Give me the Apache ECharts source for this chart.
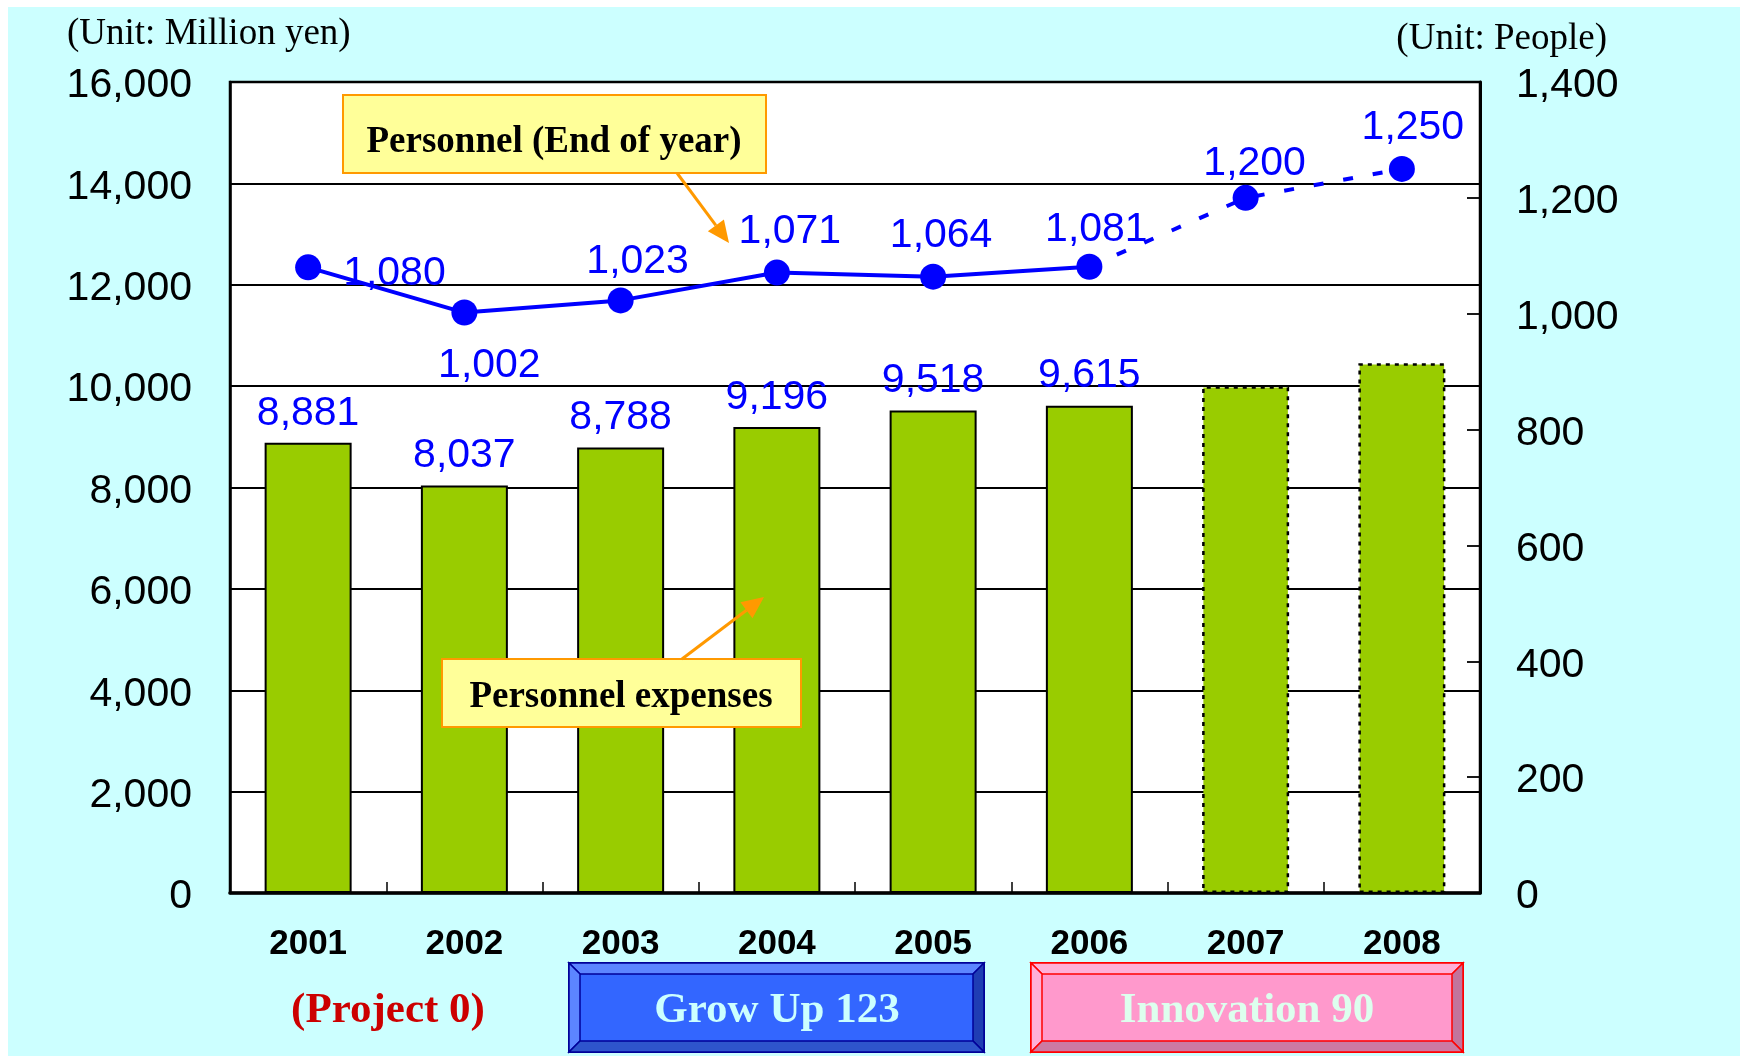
<!DOCTYPE html>
<html>
<head>
<meta charset="utf-8">
<title>Personnel expenses and personnel</title>
<script src="https://cdn.jsdelivr.net/npm/echarts@6/dist/echarts.min.js"></script>
<style>
  html, body { margin: 0; padding: 0; background: #fff; }
  #chart { width: 1740px; height: 1056px; }
</style>
</head>
<body>
<div id="chart"></div>
<script>
  // data
  var years = ['2001', '2002', '2003', '2004', '2005', '2006', '2007', '2008'];
  var expenses = [8881, 8037, 8788, 9196, 9518, 9615, 10000, 10450];
  var personnel = [1080, 1002, 1023, 1071, 1064, 1081, 1200, 1250];
  var plannedFrom = 6; // 2007 and 2008 are plans (dotted)
  var leftTicks = { min: 0, max: 16000, interval: 2000 };
  var rightTicks = { min: 0, max: 1400, interval: 200 };

  // label placement for the personnel line: [position, distance, dx, dy]
  var lineLabelPos = [
    ['right', 22, 0, 6],
    ['bottom', 20, 25, 0],
    ['top', 5, 17, 0],
    ['top', 7, 13, 0],
    ['top', 7, 8, 0],
    ['top', 4, 7, 0],
    ['top', 1, 9, 0],
    ['top', 8, 11, 0]
  ];

  var SANS = '"Liberation Sans", Arial, sans-serif';
  var SERIF = '"Liberation Serif", "Times New Roman", serif';

  function fmt(v) { return Number(v).toLocaleString('en-US'); }
  function axisFmt(v) { return '{n|' + fmt(v) + '}'; }

  var barData = expenses.map(function (v, i) {
    var planned = i >= plannedFrom;
    return {
      value: v,
      itemStyle: planned ? { borderType: [4, 5], borderWidth: 2.5 } : {},
      label: { show: !planned }
    };
  });

  var solidLine = personnel.map(function (v, i) {
    var p = lineLabelPos[i];
    return {
      value: i < plannedFrom ? v : '-',
      label: { position: p[0], distance: p[1], offset: [p[2], p[3]] }
    };
  });
  var planLine = personnel.map(function (v, i) {
    var p = lineLabelPos[i];
    return {
      value: i >= plannedFrom - 1 ? v : '-',
      label: { show: i >= plannedFrom, position: p[0], distance: p[1], offset: [p[2], p[3]] },
      symbolSize: i >= plannedFrom ? 26 : 0
    };
  });

  function arrow(x1, y1, x2, y2, color) {
    var a = Math.atan2(y2 - y1, x2 - x1);
    var len = 22, w = 10;
    var bx = x2 - len * Math.cos(a), by = y2 - len * Math.sin(a);
    var px = -Math.sin(a) * w, py = Math.cos(a) * w;
    return [
      { type: 'line', z: 50, shape: { x1: x1, y1: y1, x2: bx, y2: by }, style: { stroke: color, lineWidth: 3 } },
      { type: 'polygon', z: 50, shape: { points: [[x2, y2], [bx + px, by + py], [bx - px, by - py]] }, style: { fill: color } }
    ];
  }

  function bevelBox(x, y, w, h, b, c) {
    return [
      { type: 'rect', z: 50, shape: { x: x, y: y, width: w, height: h }, style: { fill: c.face, stroke: c.line, lineWidth: 2 } },
      { type: 'polygon', z: 51, shape: { points: [[x, y], [x + w, y], [x + w - b, y + b], [x + b, y + b]] }, style: { fill: c.top, stroke: c.line, lineWidth: 1.5 } },
      { type: 'polygon', z: 51, shape: { points: [[x, y], [x + b, y + b], [x + b, y + h - b], [x, y + h]] }, style: { fill: c.left, stroke: c.line, lineWidth: 1.5 } },
      { type: 'polygon', z: 51, shape: { points: [[x + w, y], [x + w, y + h], [x + w - b, y + h - b], [x + w - b, y + b]] }, style: { fill: c.right, stroke: c.line, lineWidth: 1.5 } },
      { type: 'polygon', z: 51, shape: { points: [[x, y + h], [x + b, y + h - b], [x + w - b, y + h - b], [x + w, y + h]] }, style: { fill: c.bottom, stroke: c.line, lineWidth: 1.5 } }
    ];
  }

  var graphics = [
    { type: 'rect', z: -100, silent: true, shape: { x: 8, y: 7, width: 1732, height: 1049 }, style: { fill: '#CCFFFF' } },
    { type: 'text', z: 50, style: { text: '(Unit: Million yen)', x: 67, y: 34, font: '37px ' + SERIF, fill: '#000', verticalAlign: 'middle' } },
    { type: 'text', z: 50, style: { text: '(Unit: People)', x: 1607, y: 39, font: '37px ' + SERIF, fill: '#000', align: 'right', verticalAlign: 'middle' } },
    { type: 'rect', z: 50, shape: { x: 343, y: 95, width: 423, height: 78 }, style: { fill: '#FFFF99', stroke: '#FF9900', lineWidth: 2 } },
    { type: 'text', z: 51, style: { text: 'Personnel (End of year)', x: 554, y: 142, font: 'bold 37px ' + SERIF, fill: '#000', align: 'center', verticalAlign: 'middle' } },
    { type: 'rect', z: 50, shape: { x: 442, y: 659, width: 359, height: 68 }, style: { fill: '#FFFF99', stroke: '#FF9900', lineWidth: 2 } },
    { type: 'text', z: 51, style: { text: 'Personnel expenses', x: 621, y: 697, font: 'bold 37px ' + SERIF, fill: '#000', align: 'center', verticalAlign: 'middle' } },
    { type: 'text', z: 50, style: { text: '(Project 0)', x: 388, y: 1011, font: 'bold 43px ' + SERIF, fill: '#CC0000', align: 'center', verticalAlign: 'middle' } }
  ];
  graphics = graphics
    .concat(arrow(677, 173, 729, 243, '#FF9900'))
    .concat(arrow(682, 659, 764, 597, '#FF9900'))
    .concat(bevelBox(569, 963, 415, 89, 11, { face: '#3366FF', top: '#5C85FF', left: '#5C85FF', right: '#1F3DB3', bottom: '#2E55CC', line: '#000099' }))
    .concat(bevelBox(1031, 963, 432, 89, 11, { face: '#FF99CC', top: '#FFB0D8', left: '#FFB0D8', right: '#C2749C', bottom: '#CC7AA3', line: '#FF0000' }))
    .concat([
      { type: 'text', z: 55, style: { text: 'Grow Up 123', x: 777, y: 1011, font: 'bold 43px ' + SERIF, fill: '#CCFFFF', align: 'center', verticalAlign: 'middle' } },
      { type: 'text', z: 55, style: { text: 'Innovation 90', x: 1247, y: 1011, font: 'bold 43px ' + SERIF, fill: '#DDFFEE', align: 'center', verticalAlign: 'middle' } }
    ]);

  var axisRich = { n: { color: '#000', fontFamily: SANS, fontSize: 41, padding: [8, 0, 0, 0] } };

  var chart = echarts.init(document.getElementById('chart'));
  var option = {
    backgroundColor: '#fff',
    animation: false,
    grid: {
      left: 230, right: 260, top: 82, bottom: 163,
      show: true, backgroundColor: '#fff', borderColor: '#000', borderWidth: 2.5
    },
    xAxis: {
      type: 'category',
      data: years,
      axisLine: { lineStyle: { color: '#000', width: 3.5 } },
      axisTick: { show: true, inside: true, length: 11, alignWithLabel: false, lineStyle: { color: '#000', width: 1.5 } },
      axisLabel: { margin: 34, color: '#000', fontFamily: SANS, fontWeight: 'bold', fontSize: 35 }
    },
    yAxis: [{
      type: 'value',
      min: leftTicks.min, max: leftTicks.max, interval: leftTicks.interval,
      axisLine: { show: true, lineStyle: { color: '#000', width: 2.5 } },
      axisTick: { show: false },
      splitLine: { lineStyle: { color: '#000', width: 1.8 } },
      axisLabel: { margin: 38, formatter: axisFmt, rich: axisRich }
    }, {
      type: 'value',
      min: rightTicks.min, max: rightTicks.max, interval: rightTicks.interval,
      position: 'right',
      axisLine: { show: true, lineStyle: { color: '#000', width: 3 } },
      axisTick: { show: true, inside: true, length: 13, lineStyle: { color: '#000', width: 1.8 } },
      splitLine: { show: false },
      axisLabel: { margin: 36, formatter: axisFmt, rich: axisRich }
    }],
    series: [{
      name: 'Personnel expenses',
      type: 'bar',
      data: barData,
      barWidth: 87,
      itemStyle: { color: '#99CC00', borderColor: '#000', borderWidth: 2 },
      label: {
        show: true, position: 'top', distance: 9,
        color: '#0000FF', fontFamily: SANS, fontSize: 41, formatter: function (p) { return fmt(p.value); }
      }
    }, {
      name: 'Personnel (End of year)',
      type: 'line',
      yAxisIndex: 1,
      data: solidLine,
      symbol: 'circle',
      symbolSize: 26,
      z: 10,
      lineStyle: { color: '#0000FF', width: 4 },
      itemStyle: { color: '#0000FF' },
      label: {
        show: true, color: '#0000FF', fontFamily: SANS, fontSize: 41,
        formatter: function (p) { return fmt(p.value); }
      }
    }, {
      name: 'Personnel (plan)',
      type: 'line',
      yAxisIndex: 1,
      data: planLine,
      symbol: 'circle',
      z: 9,
      lineStyle: { color: '#0000FF', width: 4, type: [10, 20] },
      itemStyle: { color: '#0000FF' },
      label: {
        color: '#0000FF', fontFamily: SANS, fontSize: 41,
        formatter: function (p) { return fmt(p.value); }
      }
    }],
    graphic: graphics
  };
  chart.setOption(option);
</script>
</body>
</html>
